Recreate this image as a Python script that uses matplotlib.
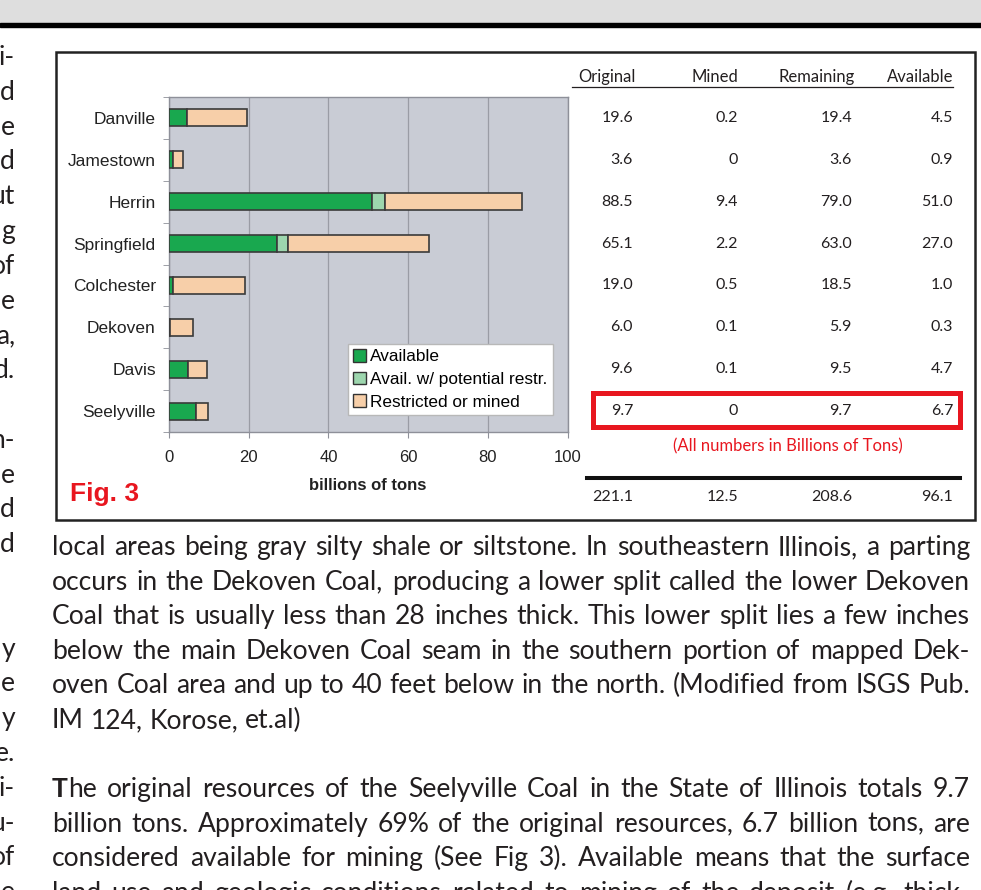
import matplotlib
matplotlib.use("Agg")
import matplotlib.pyplot as plt
import matplotlib.transforms as mtransforms
from matplotlib.patches import Rectangle, Patch
from matplotlib.lines import Line2D
from matplotlib.font_manager import FontProperties
import numpy as np

W, H = 981, 890

# chart data (billions of tons)
seams = ["Danville", "Jamestown", "Herrin", "Springfield", "Colchester",
         "Dekoven", "Davis", "Seelyville"]
original = [19.6, 3.6, 88.5, 65.1, 19.0, 6.0, 9.6, 9.7]
mined = [0.2, 0, 9.4, 2.2, 0.5, 0.1, 0.1, 0]
remaining = [19.4, 3.6, 79.0, 63.0, 18.5, 5.9, 9.5, 9.7]
available = [4.5, 0.9, 51.0, 27.0, 1.0, 0.3, 4.7, 6.7]
avail_restr = [0, 0, 3.3, 2.8, 0, 0, 0, 0]
x_ticks = [0, 20, 40, 60, 80, 100]
table_headers = ["Original", "Mined", "Remaining", "Available"]
legend_labels = ["Available", "Avail. w/ potential restr.", "Restricted or mined"]

# surrounding page text
left_col = ["i-", "d", "e", "d", "ut", "g", "of", "e", "a,", "d.", "", "n-", "e", "d", "d",
            "", "", "y", "e", "y", "e.", "i-", "u-", "of", "e"]
para1 = [
    "local areas being gray silty shale or siltstone.  In southeastern Illinois, a parting",
    "occurs in the Dekoven Coal, producing a lower split called the lower Dekoven",
    "Coal that is usually less than 28 inches thick. This lower split lies a few inches",
    "below the main Dekoven Coal seam in the southern portion of mapped Dek-",
    "oven Coal area and up to 40 feet below in the north. (Modified from ISGS Pub.",
    "IM 124, Korose, et.al)",
]
para2 = [
    "The original resources of the Seelyville Coal in the State of Illinois totals 9.7",
    "billion tons.  Approximately 69% of the original resources, 6.7 billion tons, are",
    "considered available for mining (See Fig 3).   Available means that the surface",
    "land use and geologic conditions related to mining of the deposit (e.g. thick-",
]

plt.rcParams["font.family"] = ["Liberation Sans", "DejaVu Sans"]

c_avail = "#19a84f"
c_potential = "#9dd6ae"
c_restr = "#f7cfa9"
red = "#e8161f"
ink = "#231f20"


def fx(x):
    return x / W


def fy(y):
    return 1 - y / H


fig = plt.figure(figsize=(W / 100, H / 100), dpi=100)

# page header band
fig.patches.append(Rectangle((0, fy(22.5)), 1, 22.5 / H, transform=fig.transFigure,
                             color="#dedede", zorder=0))
fig.patches.append(Rectangle((0, fy(26.5)), 1, 4 / H, transform=fig.transFigure,
                             color="black", zorder=1))
# figure frame
fig.patches.append(Rectangle((fx(56), fy(520)), fx(975) - fx(56), fy(52) - fy(520),
                             transform=fig.transFigure, fill=False, ec="#222222",
                             lw=1.8, zorder=1))

# bar chart
ax = fig.add_axes([fx(169), fy(432.3), (567.7 - 169) / W, (432.3 - 96.7) / H])
ax.set_facecolor("#c9ccd5")
y = np.arange(len(seams))
available = np.array(available)
avail_restr = np.array(avail_restr)
restricted = np.array(original) - available - avail_restr
bar_kw = dict(height=0.4, edgecolor="#3a3a3a", linewidth=1.2, zorder=3)
ax.barh(y, available, color=c_avail, **bar_kw)
ax.barh(y, avail_restr, left=available, color=c_potential, **bar_kw)
ax.barh(y, restricted, left=available + avail_restr, color=c_restr, **bar_kw)

ax.set_xlim(0, 100)
ax.set_ylim(len(seams) - 0.5, -0.5)
ax.set_xticks(x_ticks)
ax.set_xticklabels([str(t) for t in x_ticks], fontsize=12, color="#222222")
ax.set_yticks(y)
ax.set_yticklabels(seams, fontsize=12.5, color="#222222")
ax.set_yticks(np.arange(len(seams) + 1) - 0.5, minor=True)
ax.tick_params(axis="y", which="major", length=0, pad=9.5)
ax.tick_params(axis="y", which="minor", length=4, color="#8e9099", direction="out")
ax.tick_params(axis="x", length=4, color="#8e9099", pad=9)
ax.grid(axis="x", color="#9a9ca5", lw=0.9, zorder=0)
ax.set_axisbelow(True)
for sp in ax.spines.values():
    sp.set_color("#8e9099")
    sp.set_linewidth(1)

handles = [Patch(facecolor=c, edgecolor="#333333", lw=1) for c in (c_avail, c_potential, c_restr)]
leg = ax.legend(handles, legend_labels, loc="upper left", bbox_to_anchor=(fx(348), fy(344)),
                bbox_transform=fig.transFigure, fontsize=12.4, frameon=True, fancybox=False,
                edgecolor="#b8b8b8", framealpha=1, handlelength=0.75, handleheight=0.75,
                handletextpad=0.25, borderpad=0.3, labelspacing=0.42, borderaxespad=0)
leg.get_frame().set_linewidth(1)

fig.text(fx(368), fy(485), "billions of tons", ha="center", va="center", fontsize=12,
         fontweight="bold", color="#222222")
fig.text(fx(70), fy(494), "Fig. 3", ha="left", va="center", fontsize=19,
         fontweight="bold", color=red)

# table to the right of the chart
tfont = dict(family=["Lato", "DejaVu Sans"], color=ink)
row_tr = mtransforms.blended_transform_factory(fig.transFigure, ax.transData)
col_right = [633, 738, 852, 953]
head_right = [636, 738, 855, 953]
for hdr, xr in zip(table_headers, head_right):
    fig.text(fx(xr), fy(77), hdr, ha="right", va="center", fontsize=12, **tfont)
fig.add_artist(Line2D([fx(572), fx(953)], [fy(87), fy(87)], transform=fig.transFigure,
                      color=ink, lw=0.9))


def fmt(v):
    return "0" if v == 0 else f"{v:.1f}"


for col, xr in zip([original, mined, remaining, available], col_right):
    for i, v in enumerate(col):
        fig.text(fx(xr), i, fmt(v), ha="right", va="center", fontsize=11.5,
                 transform=row_tr, **tfont)
    fig.text(fx(xr), fy(497), fmt(sum(col)), ha="right", va="center", fontsize=11.5, **tfont)

fig.patches.append(Rectangle((fx(592.5), fy(426.5)), fx(959.5) - fx(592.5), fy(393.5) - fy(426.5),
                             transform=fig.transFigure, fill=False, ec=red, lw=3.6, zorder=4))
fig.text(fx(788), fy(446), "(All numbers in Billions of Tons)", ha="center", va="center",
         fontsize=12, color=red, family=["Lato", "DejaVu Sans"])
fig.add_artist(Line2D([fx(587), fx(960)], [fy(478), fy(478)], transform=fig.transFigure,
                      color="#111111", lw=2.9))

# body text around the figure
renderer = fig.canvas.get_renderer()
fp10 = FontProperties(family="Lato", size=10)


def text_w(s, fp):
    return renderer.get_text_width_height_descent(s, fp, ismath=False)[0]


just_lines = para1[:5] + para2
widest = max(text_w(" ".join(l.split()), fp10) for l in just_lines)
body_size = 10 * 912 / widest
body_fp = FontProperties(family="Lato", size=body_size)
bold_fp = FontProperties(family="Lato", size=body_size, weight="bold")
space_w = text_w("a b", body_fp) - text_w("ab", body_fp)


def draw_line(line, x0, x1, base, justify, bold_first=False):
    words = line.split()
    widths = [text_w(w, body_fp) for w in words]
    if bold_first:
        widths[0] = text_w(words[0][0], bold_fp) + text_w(words[0][1:], body_fp)
    gap = (x1 - x0 - sum(widths)) / (len(words) - 1) if justify else space_w
    x = x0
    for k, (w, wd) in enumerate(zip(words, widths)):
        if bold_first and k == 0:
            fig.text(fx(x), fy(base), w[0], ha="left", va="baseline", fontproperties=bold_fp, color=ink)
            fig.text(fx(x + text_w(w[0], bold_fp)), fy(base), w[1:], ha="left", va="baseline",
                     fontproperties=body_fp, color=ink)
        else:
            fig.text(fx(x), fy(base), w, ha="left", va="baseline", fontproperties=body_fp, color=ink)
        x += wd + gap


lead = 34.6
for i, line in enumerate(para1):
    draw_line(line, 52, 970, 555 + i * lead, justify=i < len(para1) - 1)
for i, line in enumerate(para2):
    draw_line(line, 52, 970, 797 + i * lead, justify=True, bold_first=(i == 0))

# clipped neighbouring column at the left edge
for i, s in enumerate(left_col):
    if s:
        fig.text(fx(15), fy(65 + i * 34.8), s, ha="right", va="baseline",
                 fontproperties=body_fp, color=ink)

fig.savefig("out.png", dpi=100)
